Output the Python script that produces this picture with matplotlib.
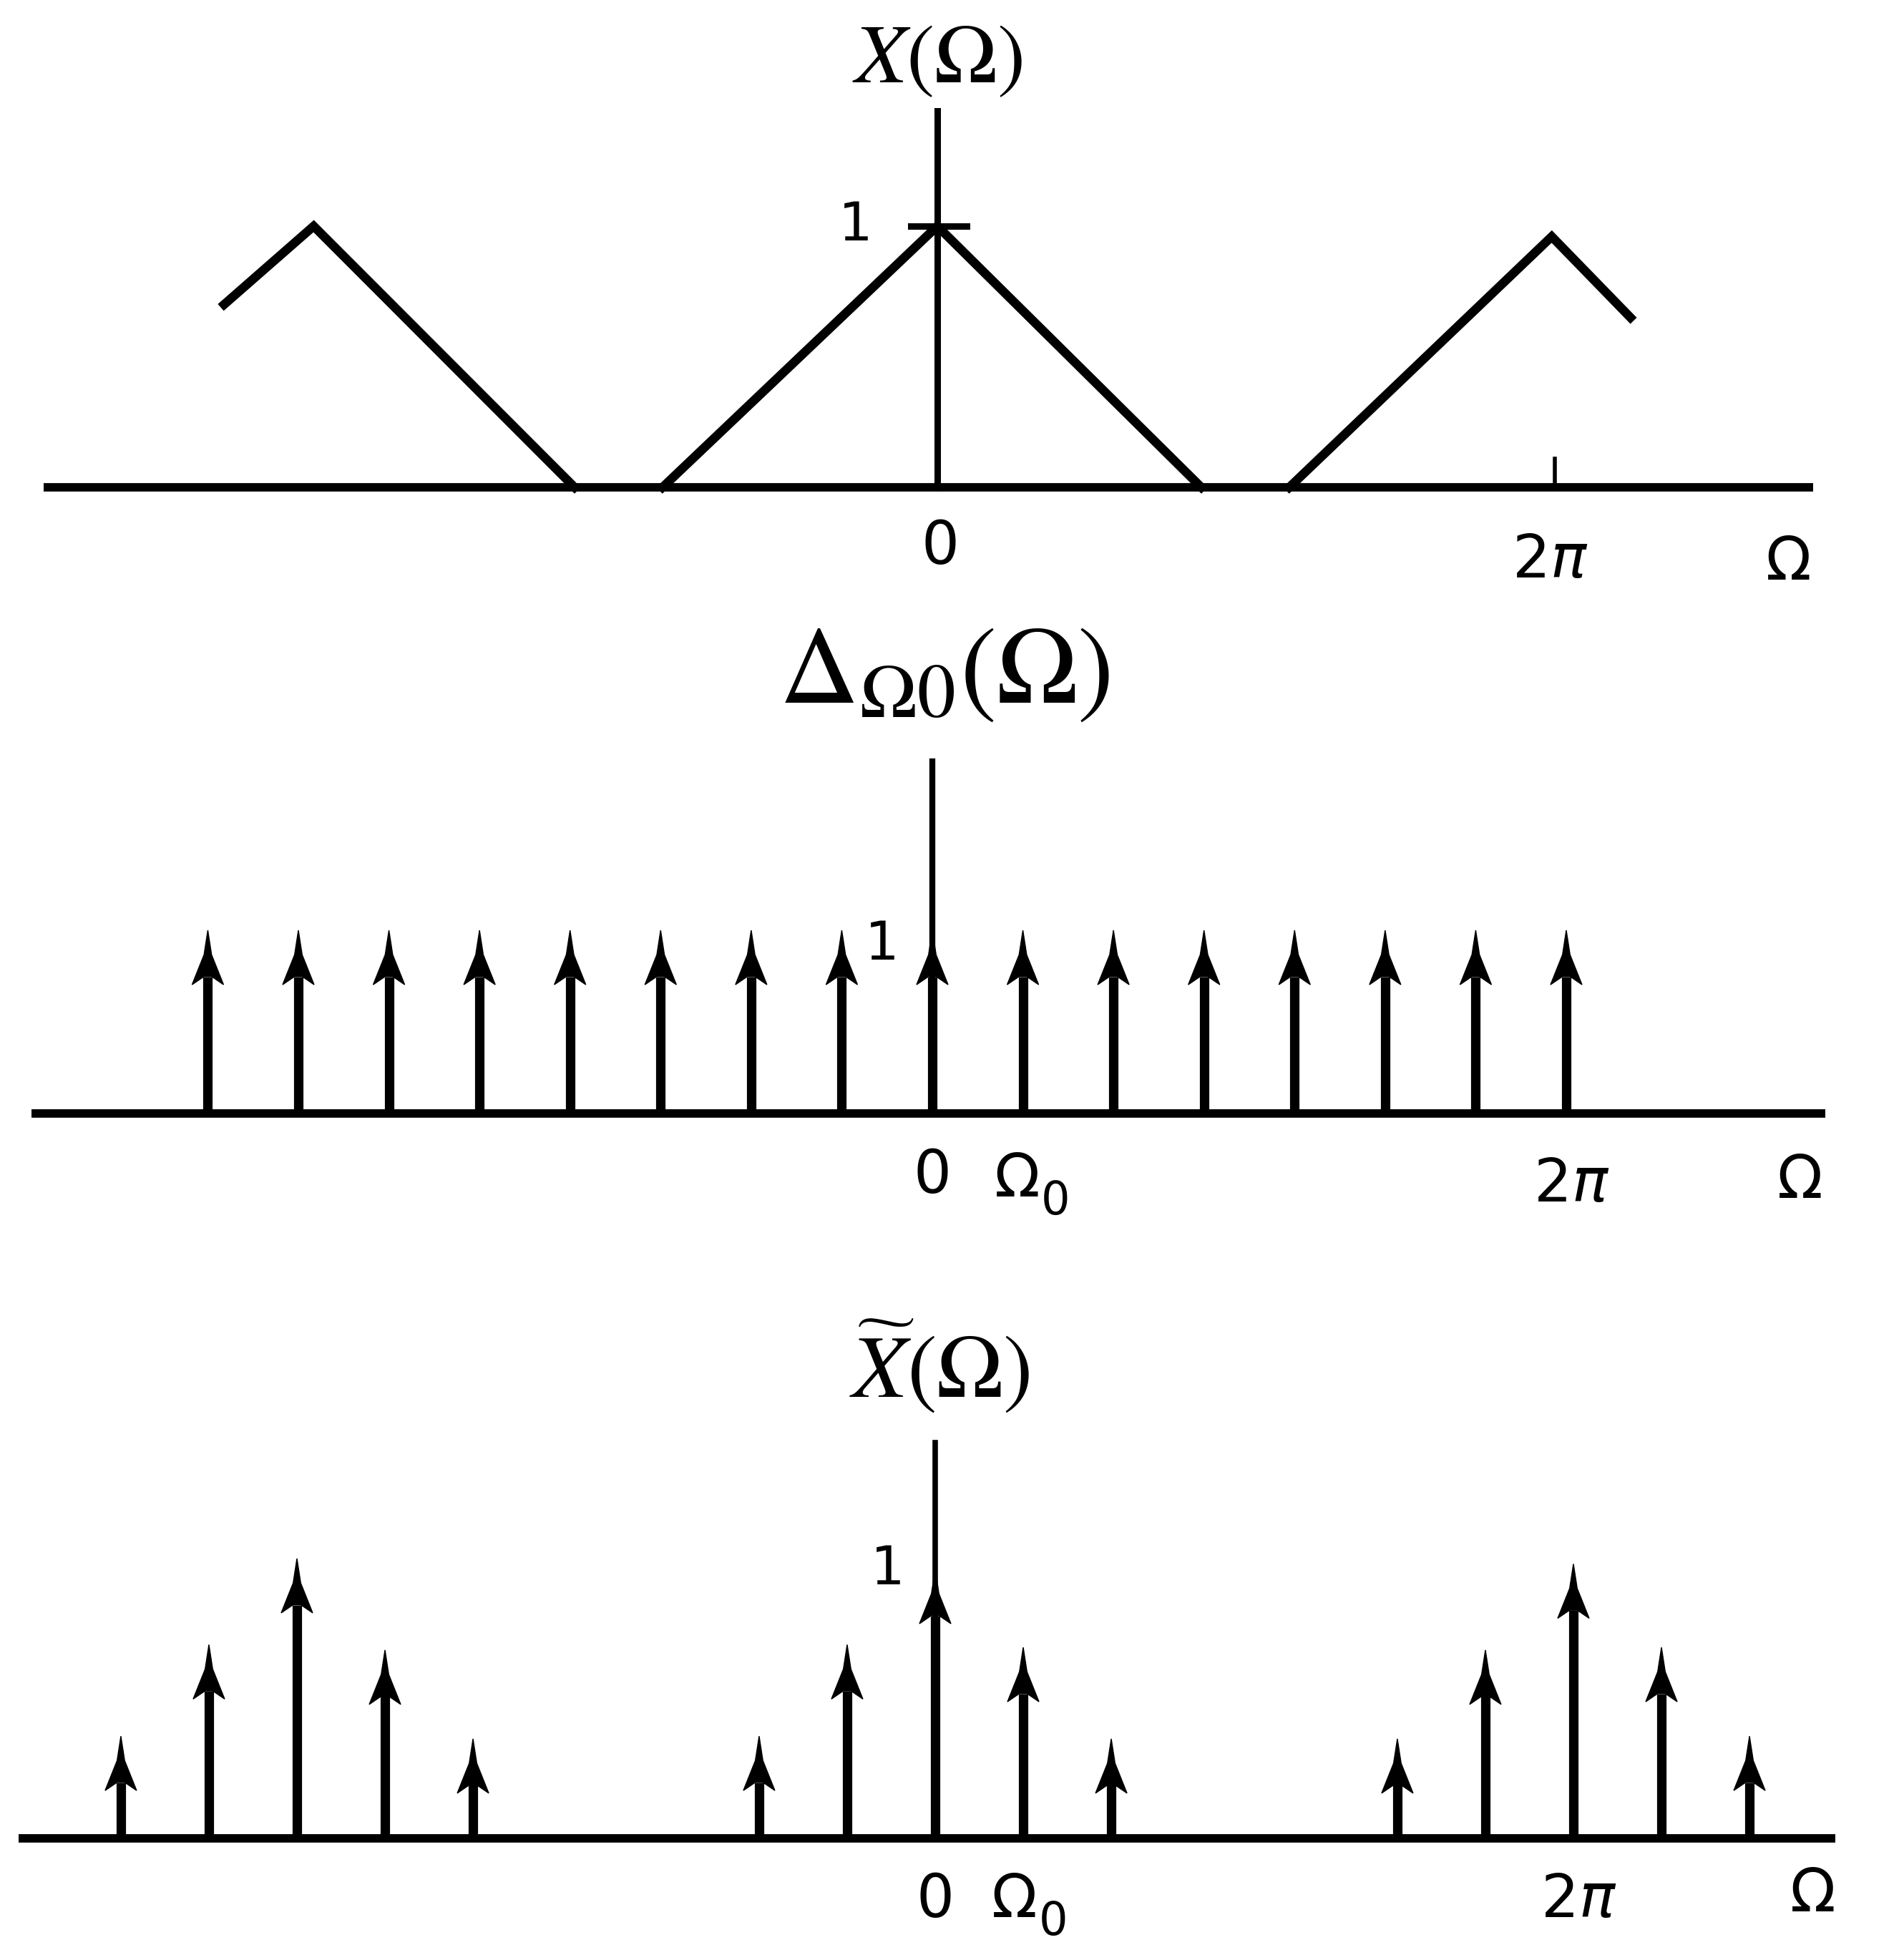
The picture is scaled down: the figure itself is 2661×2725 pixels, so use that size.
import numpy as np
import matplotlib
matplotlib.use("Agg")
import matplotlib.pyplot as plt
from matplotlib.patches import Polygon

# ---- data (x in units of pi, heights relative to 1) ----
# panel 1: periodic triangle X(Omega), three visible pieces
tri_left_x = [-2.31, -2.02, -1.175]
tri_left_y = [0.70, 1.0, 0.0]
tri_mid_x = [-0.89, 0.0, 0.855]
tri_mid_y = [0.0, 1.0, 0.0]
tri_right_x = [1.14, 1.99, 2.245]
tri_right_y = [0.0, 0.96, 0.65]

# panel 2: impulse train, spacing Omega0 = 2pi/7
train_k = list(range(-8, 8))
train_h = [1.0] * len(train_k)

# panel 3: sampled spectrum, clusters around -2pi, 0, 2pi
cluster_centres = [-2, 0, 2]          # in units of pi
cluster_k = [-2, -1, 0, 1, 2]
cluster_h = [
    [0.38, 0.72, 1.04, 0.70, 0.37],
    [0.38, 0.72, 1.00, 0.71, 0.37],
    [0.37, 0.70, 1.02, 0.71, 0.38],
]

omega0 = 2 * np.pi / 7
omega0_drawn = 2 * np.pi / 7.25   # spacing as drawn in the bottom panel

# ---- figure geometry (pixels) ----
W, H = 2661, 2725
HEAD_LEN = 76
HEAD_W = 44

tick_font = ["Liberation Sans Narrow", "DejaVu Sans"]

fig = plt.figure(figsize=(W / 100, H / 100), dpi=100)


def panel(base_px, unit_px, x0_px, two_pi_px):
    ax = fig.add_axes([0, 0, 1, 1])
    ppr = two_pi_px / (2 * np.pi)
    ax.set_xlim(-x0_px / ppr, (W - x0_px) / ppr)
    ax.set_ylim(-(H - base_px) / unit_px, base_px / unit_px)
    ax.axis("off")
    ax.patch.set_alpha(0)
    ax.unit = unit_px
    ax.ppr = ppr
    return ax


def stem_arrow(ax, x, h):
    L = HEAD_LEN / ax.unit
    w = HEAD_W / ax.ppr
    ax.plot([x, x], [0, h - 0.85 * L], color="k", lw=9.5, solid_capstyle="butt")
    pts = [(x, h), (x + 0.12 * w, h - 0.45 * L), (x + 0.5 * w, h - L),
           (x + 0.12 * w, h - 0.85 * L), (x - 0.12 * w, h - 0.85 * L),
           (x - 0.5 * w, h - L), (x - 0.12 * w, h - 0.45 * L)]
    ax.add_patch(Polygon(pts, closed=True, facecolor="k", edgecolor="k", lw=1))


def tick_text(ax, x, y, s, size=60):
    ax.text(x, y, s, ha="center", va="center", fontsize=size, family=tick_font,
            math_fontfamily="dejavusans")


# ----------------------------------
# 1) X(Omega)
# ----------------------------------
ax1 = panel(681, 365, 1310, 863)
ax1.plot([-9.09, 8.91], [0, 0], color="k", lw=8.5, solid_capstyle="butt")
ax1.plot([0, 0], [0, 1.44], color="k", lw=6.5)
ax1.plot([-0.27, 0.3], [1.0, 1.0], color="k", lw=6.5)
ax1.plot([2 * np.pi, 2 * np.pi], [0, 0.11], color="k", lw=4)
for xs, ys in [(tri_left_x, tri_left_y), (tri_mid_x, tri_mid_y), (tri_right_x, tri_right_y)]:
    ax1.plot(np.array(xs) * np.pi, ys, color="k", lw=9, solid_joinstyle="miter")
ax1.text(0, 1.64, r"$X(\Omega)$", ha="center", va="center", fontsize=85, math_fontfamily="stix")
tick_text(ax1, -0.83, 1.0, "1", 54)
tick_text(ax1, 0.03, -0.23, "0")
tick_text(ax1, 2 * np.pi - 0.05, -0.28, r"2$\pi$")
tick_text(ax1, 8.66, -0.29, "Ω")

# ----------------------------------
# 2) Delta_Omega0(Omega)
# ----------------------------------
ax2 = panel(1556, 256, 1303, 886)
ax2.plot([-8.93, 8.85], [0, 0], color="k", lw=8.5, solid_capstyle="butt")
ax2.plot([0, 0], [0, 1.92], color="k", lw=6)
for k, h in zip(train_k, train_h):
    stem_arrow(ax2, k * omega0, h)
ax2.text(0.12, 2.41, r"$\Delta_{\Omega 0}(\Omega)$", ha="center", va="center", fontsize=110,
         math_fontfamily="stix")
tick_text(ax2, -0.5, 0.92, "1", 54)
tick_text(ax2, 0.0, -0.34, "0")
tick_text(ax2, 0.84, -0.36, "Ω")
tick_text(ax2, 1.22, -0.48, "0", 46)
tick_text(ax2, 2 * np.pi + 0.05, -0.39, r"2$\pi$")
tick_text(ax2, 8.6, -0.37, "Ω")

# ----------------------------------
# 3) X~(Omega)
# ----------------------------------
ax3 = panel(2569, 376, 1307, 892)
ax3.plot([-9.02, 8.86], [0, 0], color="k", lw=8.5, solid_capstyle="butt")
ax3.plot([0, 0], [0, 1.47], color="k", lw=5.5)
for c, hs in zip(cluster_centres, cluster_h):
    for k, h in zip(cluster_k, hs):
        stem_arrow(ax3, c * np.pi + k * omega0_drawn, h)
ax3.text(0.04, 1.75, r"$\widetilde{X}(\Omega)$", ha="center", va="center", fontsize=90,
         math_fontfamily="stix")
tick_text(ax3, -0.47, 1.0, "1", 54)
tick_text(ax3, 0.0, -0.23, "0")
tick_text(ax3, 0.78, -0.23, "Ω")
tick_text(ax3, 1.16, -0.31, "0", 46)
tick_text(ax3, 2 * np.pi + 0.05, -0.23, r"2$\pi$")
tick_text(ax3, 8.64, -0.21, "Ω")

fig.savefig("out.png", dpi=100, facecolor="white")
